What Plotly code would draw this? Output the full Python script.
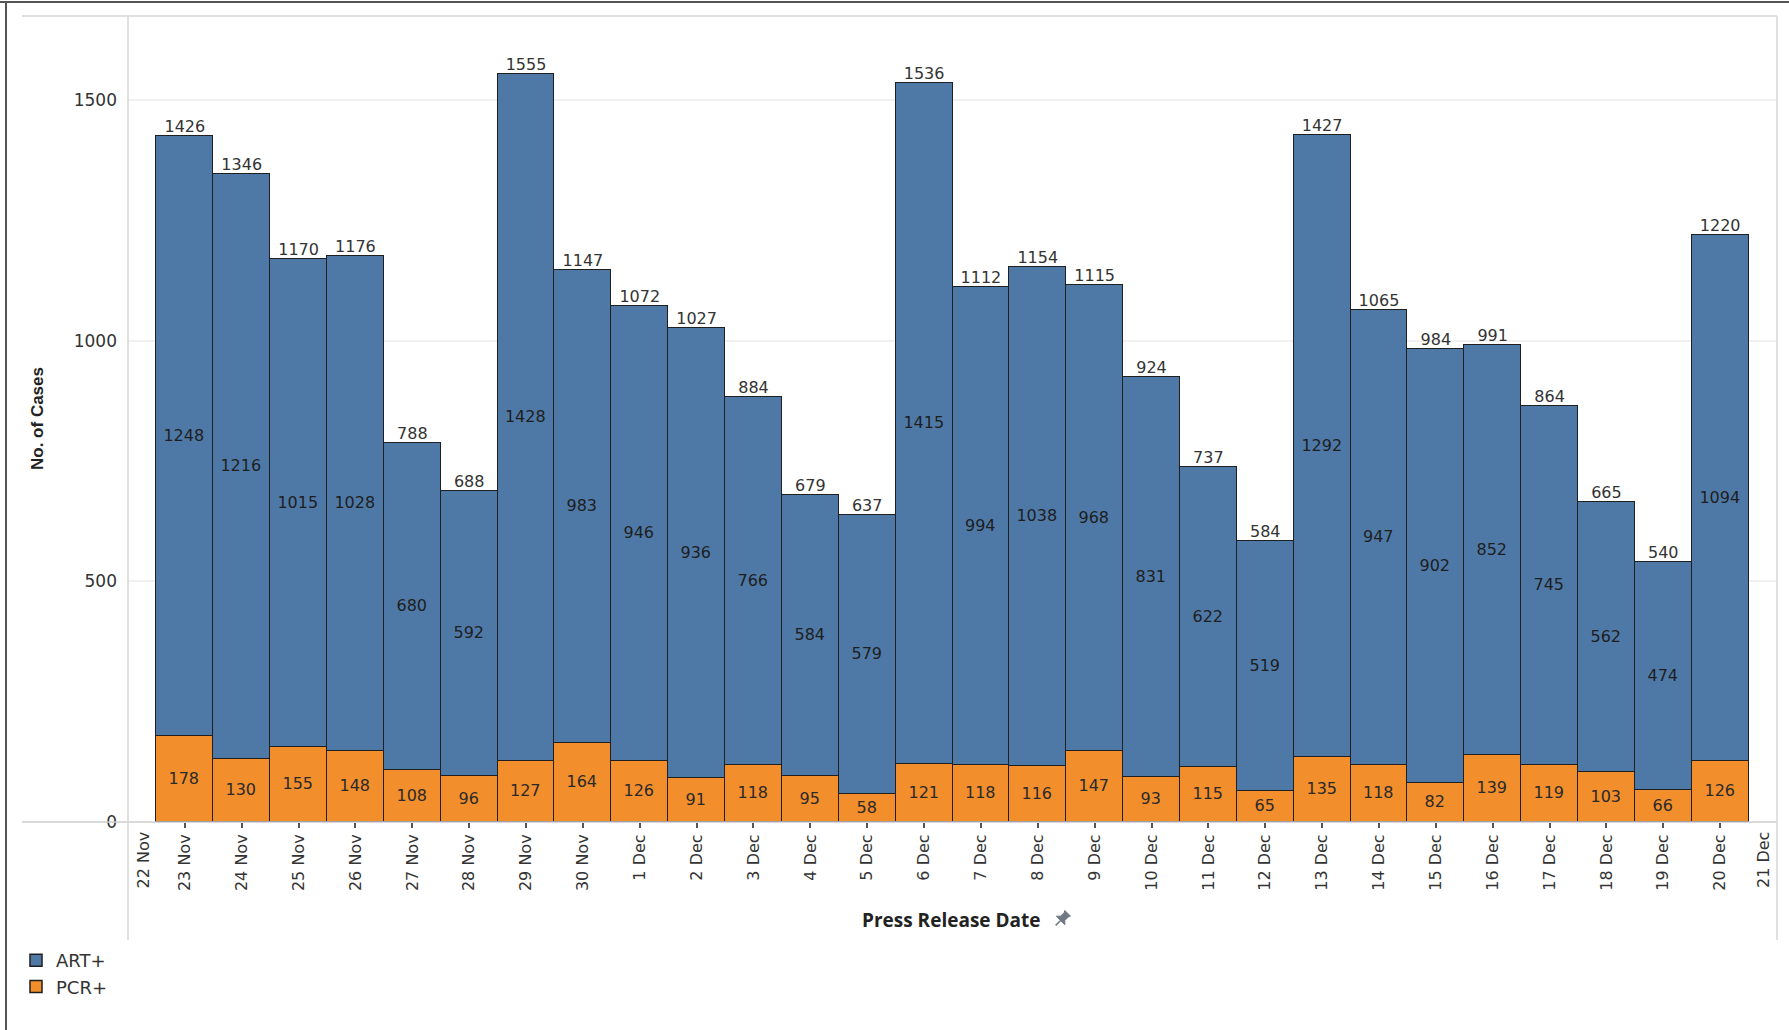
import math
import plotly.graph_objects as go

# ---- data ----
dates = ["2021-11-23", "2021-11-24", "2021-11-25", "2021-11-26", "2021-11-27", "2021-11-28",
         "2021-11-29", "2021-11-30", "2021-12-01", "2021-12-02", "2021-12-03", "2021-12-04",
         "2021-12-05", "2021-12-06", "2021-12-07", "2021-12-08", "2021-12-09", "2021-12-10",
         "2021-12-11", "2021-12-12", "2021-12-13", "2021-12-14", "2021-12-15", "2021-12-16",
         "2021-12-17", "2021-12-18", "2021-12-19", "2021-12-20"]
tick_labels = ["23 Nov", "24 Nov", "25 Nov", "26 Nov", "27 Nov", "28 Nov", "29 Nov", "30 Nov",
               "1 Dec", "2 Dec", "3 Dec", "4 Dec", "5 Dec", "6 Dec", "7 Dec", "8 Dec", "9 Dec",
               "10 Dec", "11 Dec", "12 Dec", "13 Dec", "14 Dec", "15 Dec", "16 Dec", "17 Dec",
               "18 Dec", "19 Dec", "20 Dec"]
art_pos = [1248, 1216, 1015, 1028, 680, 592, 1428, 983, 946, 936, 766, 584, 579, 1415,
           994, 1038, 968, 831, 622, 519, 1292, 947, 902, 852, 745, 562, 474, 1094]
pcr_pos = [178, 130, 155, 148, 108, 96, 127, 164, 126, 91, 118, 95, 58, 121,
           118, 116, 147, 93, 115, 65, 135, 118, 82, 139, 119, 103, 66, 126]
axis_start = "2021-11-22"
axis_end = "2021-12-21"
start_label = "22 Nov"
end_label = "21 Dec"
y_ticks = [0, 500, 1000, 1500]

totals = [a + p for a, p in zip(art_pos, pcr_pos)]

# ---- styling ----
W, H = 1789, 1030
L, R, T, B = 128, 12, 16, 208
pw = W - L - R
ph = H - T - B


def px(x):
    return (x - L) / pw


def py(y):
    return (H - B - y) / ph


BLUE = "#4E79A7"
ORANGE = "#F28E2B"
EDGE = "#1f1f1f"
TXT = "#333333"
DAY_MS = 86400000

fig = go.Figure()
fig.add_trace(go.Bar(
    x=dates, y=pcr_pos, name="PCR+", width=DAY_MS,
    marker=dict(color=ORANGE, line=dict(color=EDGE, width=1.5)),
    text=pcr_pos, textposition="inside", insidetextanchor="middle", textangle=0,
    textfont=dict(family="DejaVu Sans", size=16, color="#2a2a2a"),
    constraintext="none",
))
fig.add_trace(go.Bar(
    x=dates, y=art_pos, name="ART+", width=DAY_MS,
    marker=dict(color=BLUE, line=dict(color=EDGE, width=1.5)),
    text=art_pos, textposition="inside", insidetextanchor="middle", textangle=0,
    textfont=dict(family="DejaVu Sans", size=16, color="#1e1e1e"),
    constraintext="none",
))
fig.add_trace(go.Scatter(
    x=dates, y=totals, mode="text", text=[str(t) for t in totals],
    textposition="top center", showlegend=False, hoverinfo="skip",
    textfont=dict(family="DejaVu Sans", size=16, color=TXT),
))

line_gray = "#d6d6d6"
shapes = [
    # outer frame (top & left)
    dict(type="line", xref="paper", yref="paper", x0=px(0), x1=px(W), y0=py(2), y1=py(2),
         line=dict(color="#555555", width=2)),
    dict(type="line", xref="paper", yref="paper", x0=px(6), x1=px(6), y0=py(2), y1=py(H),
         line=dict(color="#555555", width=2)),
    # pane borders
    dict(type="line", xref="paper", yref="paper", x0=px(22), x1=1, y0=1, y1=1,
         line=dict(color=line_gray, width=1.5)),
    dict(type="line", xref="paper", yref="paper", x0=px(22), x1=1, y0=0, y1=0,
         line=dict(color="#cccccc", width=1.5)),
    dict(type="line", xref="paper", yref="paper", x0=0, x1=0, y0=1, y1=py(940),
         line=dict(color=line_gray, width=1.5)),
    dict(type="line", xref="paper", yref="paper", x0=1, x1=1, y0=1, y1=py(940),
         line=dict(color=line_gray, width=1.5)),
]

# small push-pin icon next to the x-axis title (pixel outline rotated 45 deg)
cx, cy = 1062, 919
ang = math.radians(45)


def rot(dx, dy):
    x = dx * math.cos(ang) - dy * math.sin(ang)
    y = dx * math.sin(ang) + dy * math.cos(ang)
    return px(cx + x), py(cy + y)


body = [(-4, -8), (4, -8), (3, -6), (3, -1), (6, 2), (-6, 2), (-3, -1), (-3, -6)]
pts = [rot(a, b) for a, b in body]
path = "M " + " L ".join(f"{x:.5f},{y:.5f}" for x, y in pts) + " Z"
shapes.append(dict(type="path", xref="paper", yref="paper", path=path,
                   fillcolor="#707883", line=dict(color="#707883", width=1)))
n0 = rot(0, 2)
n1 = rot(0, 9)
shapes.append(dict(type="line", xref="paper", yref="paper", x0=n0[0], y0=n0[1],
                   x1=n1[0], y1=n1[1], line=dict(color="#707883", width=1.5)))

annotations = [
    dict(x=axis_start, y=0, xref="x", yref="paper", text=start_label, textangle=-90,
         showarrow=False, xanchor="center", yanchor="top", xshift=15, yshift=-8,
         font=dict(family="DejaVu Sans", size=16, color=TXT)),
    dict(x=axis_end, y=0, xref="x", yref="paper", text=end_label, textangle=-90,
         showarrow=False, xanchor="center", yanchor="top", xshift=-14, yshift=-8,
         font=dict(family="DejaVu Sans", size=16, color=TXT)),
    dict(x=px(951), y=py(920), xref="paper", yref="paper", text="<b>Press Release Date</b>",
         showarrow=False, xanchor="center", yanchor="middle",
         font=dict(family="Open Sans", size=19, color="#222222")),
    dict(x=px(37), y=0.5, xref="paper", yref="paper", text="<b>No. of Cases</b>",
         textangle=-90, showarrow=False, xanchor="center", yanchor="middle",
         font=dict(family="Liberation Sans", size=17, color="#222222")),
]

fig.update_layout(
    width=W, height=H,
    margin=dict(l=L, r=R, t=T, b=B, autoexpand=False),
    paper_bgcolor="white", plot_bgcolor="white",
    barmode="stack", bargap=0,
    font=dict(family="DejaVu Sans", size=16, color=TXT),
    shapes=shapes, annotations=annotations,
    legend=dict(xref="container", yref="container", x=16 / W, y=1 - 942 / H,
                xanchor="left", yanchor="top", traceorder="reversed",
                font=dict(family="DejaVu Sans", size=18, color=TXT),
                itemwidth=30, tracegroupgap=0, bgcolor="rgba(0,0,0,0)"),
    showlegend=True,
)
fig.update_xaxes(
    type="date", range=[axis_start, axis_end], automargin=False,
    tickmode="array", tickvals=dates, ticktext=tick_labels, tickangle=-90,
    ticks="outside", ticklen=5, tickwidth=1.5, tickcolor="#555555",
    tickfont=dict(family="DejaVu Sans", size=16, color=TXT),
    showgrid=False, zeroline=False, showline=False, fixedrange=True,
)
fig.update_yaxes(
    range=[0, 1675], tickmode="array", tickvals=y_ticks, automargin=False,
    ticks="", ticklabelstandoff=10,
    tickfont=dict(family="DejaVu Sans", size=17, color=TXT),
    showgrid=True, gridcolor="#f1f1f1", gridwidth=1.5,
    zeroline=False, showline=False,
)

fig.write_html("out.html", config={"displayModeBar": False},
               post_script="document.body.style.margin='0px';")
